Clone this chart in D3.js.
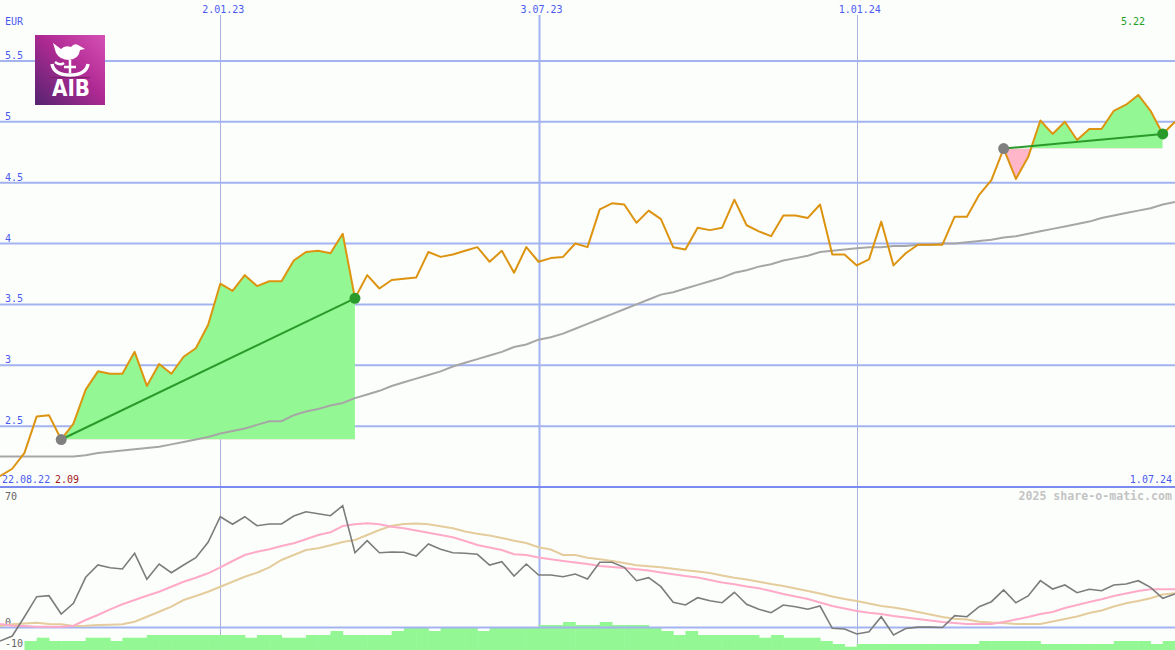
<!DOCTYPE html>
<html><head><meta charset="utf-8">
<script src="https://cdn.jsdelivr.net/npm/d3@7"></script>
<style>body{margin:0;background:#fcfefc}svg{display:block}</style>
</head><body><svg id="c" width="1175" height="650"></svg>
<script>
// ---------- data ----------
const startDate = new Date(2022, 7, 29);
const endDate = new Date(2024, 6, 1);
const dates = d3.timeMonday.range(startDate, d3.timeDay.offset(endDate, 1));
const currency = "EUR";
const rangeStartLabel = "22.08.22";
const price = [2.09,2.15,2.28,2.58,2.59,2.39,2.52,2.80,2.95,2.93,
 2.93,3.11,2.83,3.01,2.93,3.07,3.14,3.33,3.67,3.61,
 3.74,3.65,3.69,3.69,3.86,3.93,3.94,3.92,4.08,3.55,
 3.74,3.63,3.70,3.71,3.72,3.93,3.89,3.91,3.94,3.97,
 3.85,3.94,3.76,3.97,3.85,3.88,3.89,4.00,3.97,4.28,
 4.33,4.32,4.17,4.27,4.20,3.97,3.95,4.13,4.11,4.13,
 4.36,4.15,4.10,4.06,4.23,4.23,4.21,4.32,3.91,3.91,
 3.82,3.87,4.18,3.82,3.92,3.99,3.99,3.99,4.22,4.22,
 4.40,4.52,4.78,4.53,4.71,5.01,4.90,5.00,4.85,4.94,
 4.94,5.09,5.14,5.22,5.09,4.90,5.00];
const movingAvg = [2.25,2.25,2.25,2.25,2.25,2.25,2.25,2.26,2.28,2.29,
 2.30,2.31,2.32,2.33,2.35,2.37,2.39,2.41,2.44,2.46,
 2.48,2.51,2.54,2.54,2.59,2.62,2.64,2.67,2.69,2.73,
 2.76,2.79,2.83,2.86,2.89,2.92,2.95,2.99,3.02,3.05,
 3.08,3.11,3.15,3.17,3.21,3.23,3.26,3.30,3.34,3.38,
 3.42,3.46,3.50,3.54,3.58,3.60,3.63,3.66,3.69,3.72,
 3.76,3.78,3.81,3.83,3.86,3.88,3.90,3.93,3.94,3.95,
 3.96,3.97,3.97,3.98,3.98,3.99,3.99,4.00,4.00,4.01,
 4.02,4.03,4.05,4.06,4.08,4.10,4.12,4.14,4.16,4.18,
 4.21,4.23,4.25,4.27,4.29,4.32,4.34];
const oscillator = [-6.75,-4.25,5.4,15.4,15.9,6.75,12.1,25.1,31.25,29.9,
 29.25,37.1,24.1,31.75,27.4,31.25,34.9,42.6,55.4,51.6,
 55.4,50.9,51.75,51.75,55.75,57.9,56.9,55.9,60.9,37.4,
 43.4,37.4,37.75,37.6,35.75,41.75,39.1,37.4,37.1,36.6,
 31.25,32.9,25.75,31.75,26.25,26.25,25.4,26.75,24.25,32.6,
 32.6,30.1,23.4,24.9,20.4,12.6,11.25,14.9,13.4,12.4,
 17.6,11.6,9.1,7.4,11.25,10.4,9.1,10.75,-0.4,-0.75,
 -3.25,-2.1,5.4,-3.75,-0.5,0.2,0.2,0,5.9,5.4,
 10.4,12.9,18.75,12.4,15.75,23.4,19.25,21.25,17.4,19.1,
 18.4,21.25,21.75,23.4,20.1,14.6,16.75];
const signalFast = [1.75,0.9,0.75,0.4,0.4,0.4,0.9,3.75,6.25,9.1,
 11.6,13.75,15.9,17.9,20.4,22.9,24.9,27.1,30.1,33.25,
 36.25,37.9,39.1,40.75,42.1,44.1,46.25,47.6,50.75,51.6,
 52.1,51.6,50.4,49.6,48.5,47.4,46.25,45.1,43.25,41.25,
 40,38.75,36.6,36.25,35,34.1,33.25,32.5,31.75,30.75,
 30.25,29.75,29.1,28.5,27.5,26.6,25.75,25,23.75,22.5,
 21.6,20.5,19.6,18.25,16.75,15.5,14.25,12.5,10.75,9.5,
 8.25,7.4,6.75,5.75,5,4.25,3.5,2.75,2.25,1.75,
 1.75,1.75,2.75,4,5.25,6.75,7.75,9.75,11.25,12.75,
 14.1,15.75,17,18.25,19.1,19.1,19.1];
const signalSlow = [0.75,1.6,2,2.4,1.75,1.6,0.75,0.9,1.25,1.4,
 1.6,2.9,5.4,7.9,10.4,13.75,15.75,17.9,20.4,22.9,
 25.4,27.4,30.1,33.75,36.25,38.75,39.6,41.1,42.75,43.75,
 46.25,48.75,50.9,51.75,52,51.6,50.6,49.6,48,46.9,
 46,44.75,43.4,42.25,40.1,39,36.25,36.25,34.9,34.1,
 33.25,32.25,31.1,30.6,30.1,29.4,28.6,28,27.25,26,
 24.9,24,22.9,21.75,20.75,19.5,18.25,17,15.5,14.25,
 13.25,12,10.75,10,9,7.75,6.5,5.25,4.4,4,
 2.9,2.5,2.25,1.75,1.75,1.75,3,4.25,5.5,7.25,
 8.5,10.5,12.1,13.25,14.6,16.5,17.1];
const volume = [0,0,9,12.3,9,9,9,12.3,12.3,9,
 12.3,12.3,15,15,15,15,15,15,15,15,
 12.3,15,15,12.3,12.3,15,15,19,15,15,
 15,15,19,22.3,22.3,19,22.3,22.3,22.3,19,
 22.3,22.3,22.3,22.3,25,25,28,25,25,28,
 25,25,25,22.3,19,15,19,15,15,15,
 15,15,12.3,15,12.3,12.3,12.3,9,6,3.3,
 6,6,6,6,6,6,6,6,6,6,
 9,9,9,9,9,6,6,6,6,6,
 6,9,9,9,6,9];
const priceTicks = [2.5,3,3.5,4,4.5,5,5.5];
const dateTicks = [new Date(2023,0,2), new Date(2023,6,3), new Date(2024,0,1)];
const lowerTicks = [70, 0, -10];
const periods = [{from:5, to:29}, {from:82, to:95}];
const watermark = "2025 share-o-matic.com";

// ---------- scales ----------
const W = 1175, H = 650;
const x = d3.scaleTime().domain([startDate, endDate]).range([0, W]);
const y = d3.scaleLinear().domain([2, 6]).range([487, 0]);
const y2 = d3.scaleLinear().domain([-10, 70]).range([647.5, 487.5]);
const yv = d3.scaleLinear().domain([0, 20]).range([650, 630]);
const fmtDate = d3.timeFormat("%-d.%m.%y");
const fmtP = d3.format(".2f");

const svg = d3.select("#c");
svg.append("rect").attr("width", W).attr("height", H).attr("fill", "#fcfefc");
const mono = "'DejaVu Sans Mono', monospace";
const blue = "#4a5af0";

// vertical date lines
svg.append("g").selectAll("line").data(dateTicks).join("line")
  .attr("x1", d => Math.round(x(d)) + 0.5).attr("x2", d => Math.round(x(d)) + 0.5)
  .attr("y1", 15).attr("y2", H)
  .attr("stroke", d => d.getMonth() === 0 ? "#aab2dc" : "#a3b3f0")
  .attr("stroke-width", d => d.getMonth() === 0 ? 1 : 2);
svg.append("g").selectAll("text").data(dateTicks).join("text")
  .attr("x", d => x(d) + 3).attr("y", 13).attr("text-anchor", "middle")
  .attr("font-family", mono).attr("font-size", 10).attr("fill", blue)
  .text(d => fmtDate(d));

// horizontal grid
svg.append("g").selectAll("line").data(priceTicks).join("line")
  .attr("x1", 0).attr("x2", W).attr("y1", d => y(d)).attr("y2", d => y(d))
  .attr("stroke", "#a3b3f0").attr("stroke-width", 2);
svg.append("g").selectAll("text").data(priceTicks).join("text")
  .attr("x", 5).attr("y", d => y(d) - 2)
  .attr("font-family", mono).attr("font-size", 10).attr("fill", blue)
  .text(d => d);
svg.append("text").attr("x", 5).attr("y", 25).attr("font-family", mono)
  .attr("font-size", 10).attr("fill", blue).text(currency);

// period fills
const defs = svg.append("defs");
periods.forEach((p, k) => {
  const seg = d3.range(p.from, p.to + 1);
  const base = price[p.from];
  const x0 = x(dates[p.from]), x1 = x(dates[p.to]);
  defs.append("clipPath").attr("id", "up" + k).append("rect")
    .attr("x", x0).attr("width", x1 - x0).attr("y", 0).attr("height", y(base));
  defs.append("clipPath").attr("id", "dn" + k).append("rect")
    .attr("x", x0).attr("width", x1 - x0).attr("y", y(base)).attr("height", 487 - y(base));
  const area = d3.area().x(i => x(dates[i])).y0(y(base)).y1(i => y(price[i]));
  svg.append("path").datum(seg).attr("d", area).attr("fill", "#93f893").attr("clip-path", `url(#up${k})`);
  svg.append("path").datum(seg).attr("d", area).attr("fill", "#ffb6c8").attr("clip-path", `url(#dn${k})`);
});

// moving average & price
const idx = d3.range(dates.length);
svg.append("path").datum(idx)
  .attr("d", d3.line().x(i => x(dates[i])).y(i => y(movingAvg[i])))
  .attr("fill", "none").attr("stroke", "#a6a6a6").attr("stroke-width", 2);
svg.append("path").datum(idx)
  .attr("d", d3.line().x(i => x(dates[i])).y(i => y(price[i])))
  .attr("fill", "none").attr("stroke", "#dc9410").attr("stroke-width", 2).attr("stroke-linejoin", "round");

// trend lines and dots
periods.forEach(p => {
  svg.append("line")
    .attr("x1", x(dates[p.from])).attr("y1", y(price[p.from]))
    .attr("x2", x(dates[p.to])).attr("y2", y(price[p.to]))
    .attr("stroke", "#2a9a2a").attr("stroke-width", 2);
  svg.append("circle").attr("cx", x(dates[p.from])).attr("cy", y(price[p.from])).attr("r", 5.5).attr("fill", "#808080");
  svg.append("circle").attr("cx", x(dates[p.to])).attr("cy", y(price[p.to])).attr("r", 5.5).attr("fill", "#2a9a2a");
});

// range labels
const maxP = d3.max(price), minP = d3.min(price);
svg.append("text").attr("x", 1145).attr("y", 25).attr("text-anchor", "end")
  .attr("font-family", mono).attr("font-size", 10).attr("fill", "#22a022").text(fmtP(maxP));
svg.append("text").attr("x", 2).attr("y", 483).attr("font-family", mono)
  .attr("font-size", 10).attr("fill", blue).text(rangeStartLabel);
svg.append("text").attr("x", 55).attr("y", 483).attr("font-family", mono)
  .attr("font-size", 10).attr("fill", "#a01818").text(fmtP(minP));
svg.append("text").attr("x", 1172).attr("y", 483).attr("text-anchor", "end")
  .attr("font-family", mono).attr("font-size", 10).attr("fill", blue).text(fmtDate(endDate));

// separator
svg.append("line").attr("x1", 0).attr("x2", W).attr("y1", y(2)).attr("y2", y(2))
  .attr("stroke", "#7a8af0").attr("stroke-width", 2);

// ---------- lower panel ----------
svg.append("g").selectAll("rect").data(volume).join("rect")
  .attr("x", (v, i) => x(dates[i]))
  .attr("width", (v, i) => x(dates[i + 1]) - x(dates[i]) + 0.5)
  .attr("y", v => yv(v)).attr("height", v => yv(0) - yv(v))
  .attr("fill", "#93f893");
svg.append("line").attr("x1", 0).attr("x2", W).attr("y1", y2(0)).attr("y2", y2(0))
  .attr("stroke", "#a3b3f0").attr("stroke-width", 2);
svg.append("text").attr("x", 1172).attr("y", 500).attr("text-anchor", "end")
  .attr("font-family", mono).attr("font-size", 11.6).attr("font-weight", "bold")
  .attr("fill", "#c4c4c4").text(watermark);
const lowLabelOffset = {"70": 12.5, "0": -2, "-10": -1};
svg.append("g").selectAll("text").data(lowerTicks).join("text")
  .attr("x", 5).attr("y", d => y2(d) + lowLabelOffset[d])
  .attr("font-family", mono).attr("font-size", 10).attr("fill", "#666")
  .text(d => d);

const lineOf = arr => d3.line().x(i => x(dates[i])).y(i => y2(arr[i]));
svg.append("path").datum(idx).attr("d", lineOf(signalSlow))
  .attr("fill", "none").attr("stroke", "#e4cc9c").attr("stroke-width", 2);
svg.append("path").datum(idx).attr("d", lineOf(signalFast))
  .attr("fill", "none").attr("stroke", "#ffaac8").attr("stroke-width", 2);
svg.append("path").datum(idx).attr("d", lineOf(oscillator))
  .attr("fill", "none").attr("stroke", "#7c7c7c").attr("stroke-width", 1.6);

// ---------- logo ----------
const g = svg.append("g").attr("transform", "translate(35,35)");
const grad = defs.append("linearGradient").attr("id", "lg")
  .attr("x1", "1").attr("y1", "0").attr("x2", "0").attr("y2", "1");
grad.append("stop").attr("offset", "0").attr("stop-color", "#d651b4");
grad.append("stop").attr("offset", "0.45").attr("stop-color", "#b02a94");
grad.append("stop").attr("offset", "1").attr("stop-color", "#54246f");
g.append("rect").attr("width", 70).attr("height", 70).attr("fill", "url(#lg)");
g.append("path").attr("fill", "#fff")
  .attr("d", "M18,8 L26,14 Q30,10 36,12 Q39,8 43,10 L50,14 L45,15 Q44,24 34,25 Q25,25 21,18 Z");
g.append("path").attr("fill", "none").attr("stroke", "#fff").attr("stroke-width", 3.5)
  .attr("d", "M17,29 Q19,40 35,40 Q51,40 53,29");
g.append("path").attr("fill", "none").attr("stroke", "#fff").attr("stroke-width", 2.5)
  .attr("d", "M35,25 L35,38 M29,32 L41,32 M20,27 Q25,31 29,28");
g.append("line").attr("x1", 15).attr("x2", 55).attr("y1", 42.5).attr("y2", 42.5)
  .attr("stroke", "#7a1f6a").attr("stroke-width", 1);
g.append("text").attr("x", 17).attr("y", 61).attr("textLength", 38).attr("lengthAdjust", "spacingAndGlyphs")
  .attr("font-family", "'DejaVu Sans', sans-serif").attr("font-weight", "bold")
  .attr("font-size", 23).attr("fill", "#fff").text("AIB");
</script>
</body></html>
